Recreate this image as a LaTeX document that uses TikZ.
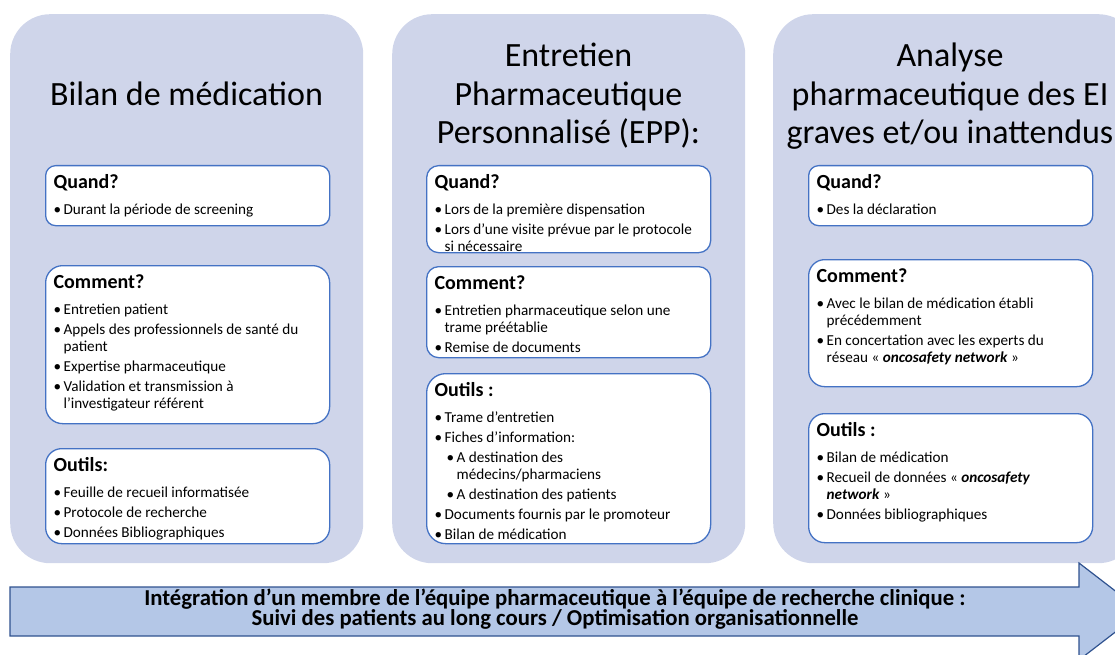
\documentclass[tikz,border=0pt]{standalone}
\usepackage{fontspec}
\setmainfont{Carlito}
\usetikzlibrary{positioning}
\definecolor{panelfill}{RGB}{207,213,234}
\definecolor{boxline}{RGB}{68,114,196}
\definecolor{arrowfill}{RGB}{180,199,231}
\definecolor{arrowline}{RGB}{47,82,143}

% box contents
\newcommand{\boxtext}[2]{\parbox[t][#1][t]{268pt}{\fontsize{15.2}{17}\selectfont\raggedright\setlength{\parskip}{3pt}#2}}
\newcommand{\boxhead}[1]{\rule{0pt}{23pt}{\fontsize{20}{22}\selectfont\bfseries #1}\par\vspace{6pt}}
\newcommand{\itm}[1]{\par\hangindent=10pt\hangafter=1\makebox[10pt][l]{\textbullet}#1}
\newcommand{\subitm}[1]{\par\hangindent=22pt\hangafter=1\leavevmode\hspace*{12pt}\makebox[10pt][l]{\textbullet}#1}

\begin{document}
\begin{tikzpicture}[x=1pt, y=-1pt,
  panel/.style={fill=panelfill, rounded corners=40pt, anchor=north west, inner sep=0pt},
  paneltitle/.style={align=center, anchor=base, font=\fontsize{34}{38.3}\selectfont},
  infobox/.style={draw=boxline, line width=1.3pt, fill=white, rounded corners=#1, anchor=north west, inner xsep=8pt, inner ysep=0pt},
  infobox/.default=10pt,
  bararrow/.style={draw=arrowline, line width=1.2pt, fill=arrowfill},
]
  \useasboundingbox (0,0) rectangle (1115,655);
  \clip (0,0) rectangle (1115,655);

  % Panels
  \node[panel, minimum width=353pt, minimum height=549pt] (bilan) at (10,14) {};
  \node[panel, minimum width=353pt, minimum height=549pt] (epp) at (392,14) {};
  \node[panel, minimum width=365pt, minimum height=549pt] (analyse) at (773,14) {};

  % titles (base = last line)
  \node[paneltitle] (bilantitle) at (186.5,106) {Bilan de médication};
  \node[paneltitle] (epptitle) at (568.5,143.5) {Entretien\\Pharmaceutique\\Personnalisé (EPP):};
  \node[paneltitle] (analysetitle) at (950,143.5) {Analyse\\pharmaceutique des EI\\graves et/ou inattendus};

  % Bilan de medication
  \node[infobox] (quandbilan) at (45,165) {\boxtext{60pt}{\boxhead{Quand?}
    \itm{Durant la période de screening}}};
  \node[infobox=17pt] (commentbilan) at (45,265) {\boxtext{158pt}{\boxhead{Comment?}
    \itm{Entretien patient}
    \itm{Appels des professionnels de santé du\newline patient}
    \itm{Expertise pharmaceutique}
    \itm{Validation et transmission à\newline l’investigateur référent}}};
  \node[infobox=16pt] (outilsbilan) at (45,448) {\boxtext{95pt}{\boxhead{Outils:}
    \itm{Feuille de recueil informatisée}
    \itm{Protocole de recherche}
    \itm{Données Bibliographiques}}};

  % EPP
  \node[infobox=12pt] (quandepp) at (426,165) {\boxtext{87pt}{\boxhead{Quand?}
    \itm{Lors de la première dispensation}
    \itm{Lors d’une visite prévue par le protocole\newline si nécessaire}}};
  \node[infobox=12pt] (commentepp) at (426,266) {\boxtext{91pt}{\boxhead{Comment?}
    \itm{Entretien pharmaceutique selon une\newline trame préétablie}
    \itm{Remise de documents}}};
  \node[infobox=19pt] (outilsepp) at (426,373) {\boxtext{170pt}{\boxhead{Outils :}
    \itm{Trame d’entretien}
    \itm{Fiches d’information:}
    \subitm{A destination des\newline médecins/pharmaciens}
    \subitm{A destination des patients}
    \itm{Documents fournis par le promoteur}
    \itm{Bilan de médication}}};

  % Analyse des EI
  \node[infobox] (quandanalyse) at (808,165) {\boxtext{60pt}{\boxhead{Quand?}
    \itm{Des la déclaration}}};
  \node[infobox=16pt] (commentanalyse) at (808,259) {\boxtext{127pt}{\boxhead{Comment?}
    \itm{Avec le bilan de médication établi\newline précédemment}
    \itm{En concertation avec les experts du\newline réseau «~\textbf{\textit{oncosafety network}}~»}}};
  \node[infobox=16pt] (outilsanalyse) at (808,413) {\boxtext{129pt}{\boxhead{Outils :}
    \itm{Bilan de médication}
    \itm{Recueil de données «~\textbf{\textit{oncosafety}}\newline\textbf{\textit{network}}~»}
    \itm{Données bibliographiques}}};

  % Bottom arrow
  \draw[bararrow] (10,587) -- (1079,587) -- (1079,563) -- (1142,611.5)
    -- (1079,660) -- (1079,636) -- (10,636) -- cycle;
  \node[align=center, anchor=base, font=\fontsize{22.75}{20.5}\selectfont\bfseries] (integration) at (555,625.5)
    {Intégration d’un membre de l’équipe pharmaceutique à l’équipe de recherche clinique :\\
     Suivi des patients au long cours / Optimisation organisationnelle};
\end{tikzpicture}
\end{document}
